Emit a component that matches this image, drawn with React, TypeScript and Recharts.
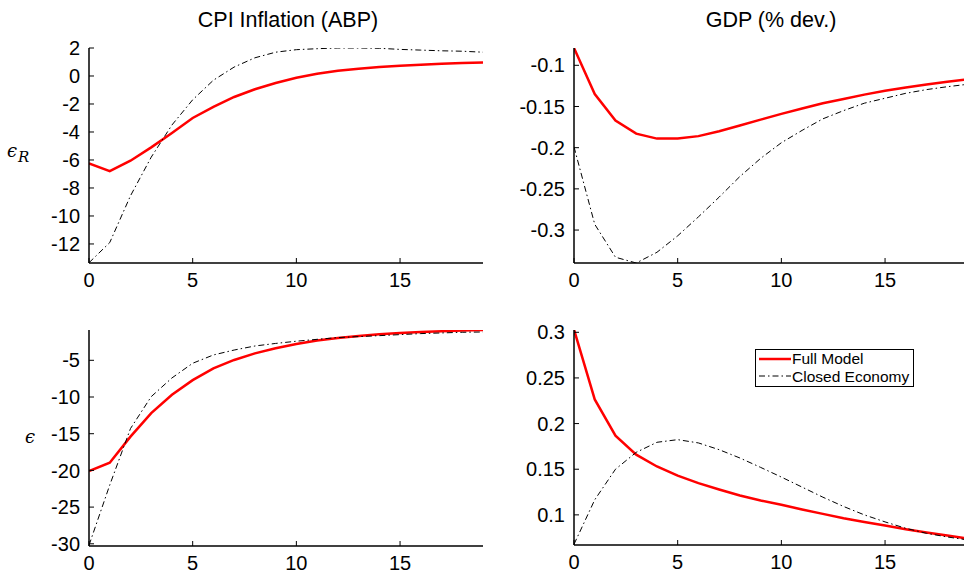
import React from 'react';
import { LineChart, Line, XAxis, YAxis, Legend } from 'recharts';

// ---------- data ----------
const periods = [0, 1, 2, 3, 4, 5, 6, 7, 8, 9, 10, 11, 12, 13, 14, 15, 16, 17, 18, 19];
const xTickValues = [0, 5, 10, 15];

// Row 1: shock epsilon_R
const cpiRFull = [-6.25, -6.8, -6.05, -5.1, -4.07, -3.0, -2.2, -1.5, -0.95, -0.5, -0.13, 0.16, 0.37, 0.52, 0.64, 0.73, 0.8, 0.87, 0.92, 0.97];
const cpiRClosed = [-13.34, -11.9, -8.56, -5.8, -3.5, -1.7, -0.3, 0.64, 1.3, 1.7, 1.88, 1.95, 2.0, 2.0, 1.98, 1.9, 1.85, 1.8, 1.77, 1.7];
const gdpRFull = [-0.079, -0.135, -0.167, -0.183, -0.189, -0.189, -0.186, -0.18, -0.173, -0.166, -0.159, -0.1525, -0.146, -0.141, -0.1356, -0.131, -0.127, -0.1234, -0.12, -0.117];
const gdpRClosed = [-0.199, -0.293, -0.333, -0.34, -0.327, -0.307, -0.284, -0.26, -0.235, -0.213, -0.194, -0.179, -0.165, -0.155, -0.146, -0.14, -0.134, -0.1295, -0.126, -0.123];

// Row 2: shock epsilon
const cpiEFull = [-20.1, -18.95, -15.4, -12.2, -9.7, -7.7, -6.1, -4.95, -4.05, -3.36, -2.77, -2.3, -1.95, -1.68, -1.45, -1.27, -1.14, -1.05, -0.95, -0.86];
const cpiEClosed = [-30.2, -22.0, -14.3, -9.95, -7.4, -5.4, -4.27, -3.6, -3.05, -2.7, -2.4, -2.14, -1.9, -1.77, -1.64, -1.5, -1.36, -1.27, -1.18, -1.14];
const gdpEFull = [0.303, 0.2264, 0.1868, 0.166, 0.153, 0.1429, 0.1348, 0.1278, 0.1212, 0.1158, 0.111, 0.1059, 0.1011, 0.0963, 0.0923, 0.0883, 0.0842, 0.0806, 0.0773, 0.074];
const gdpEClosed = [0.0678, 0.1165, 0.15, 0.1685, 0.1795, 0.1824, 0.1788, 0.1714, 0.1623, 0.152, 0.1414, 0.1304, 0.1194, 0.1092, 0.1, 0.0923, 0.0853, 0.0798, 0.0758, 0.0725];

const cpiRTicks = [2, 0, -2, -4, -6, -8, -10, -12];
const gdpRTicks = [-0.1, -0.15, -0.2, -0.25, -0.3];
const cpiETicks = [-5, -10, -15, -20, -25, -30];
const gdpETicks = [0.1, 0.15, 0.2, 0.25, 0.3];

const colTitles = ['CPI Inflation (ABP)', 'GDP (% dev.)'];
const seriesNames = ['Full Model', 'Closed Economy'];

// ---------- styles ----------
const FONT = '"Liberation Sans", Arial, Helvetica, sans-serif';
const SERIF = '"DejaVu Serif", "Liberation Serif", serif';
const axisLine = { stroke: '#000', strokeWidth: 1.5 };
const tickLine = { stroke: '#000', strokeWidth: 1 };
const tickText = { fill: '#000', fontSize: 20, fontFamily: FONT };
const noTick = () => <g />;

const styleFull = { stroke: '#ff0000', strokeWidth: 2.5, strokeDasharray: undefined as string | undefined };
const styleClosed = { stroke: '#000000', strokeWidth: 1, strokeDasharray: '6 3 1.5 3' };

function LegendBox(props: any) {
  const payload = [...(props.payload || [])].sort(
    (a: any, b: any) => seriesNames.indexOf(a.value) - seriesNames.indexOf(b.value)
  );
  return (
    <div
      style={{
        border: '1.5px solid #000',
        background: '#fff',
        padding: '0px 4px 1px 3px',
        fontFamily: FONT,
        fontSize: 15.5,
        lineHeight: '17.5px',
        color: '#000',
        whiteSpace: 'nowrap',
      }}
    >
      {payload.map((item: any) => {
        const st = item.dataKey === 'full' ? styleFull : styleClosed;
        return (
          <div key={item.value} style={{ display: 'flex', alignItems: 'center' }}>
            <svg width={32} height={10} style={{ marginRight: 1 }}>
              <line x1={0} y1={5} x2={32} y2={5} stroke={st.stroke} strokeWidth={st.strokeWidth} strokeDasharray={st.strokeDasharray} />
            </svg>
            <span>{item.value}</span>
          </div>
        );
      })}
    </div>
  );
}

type PanelProps = {
  left: number;
  top: number;
  width: number;
  height: number;
  margin: { top: number; right: number; bottom: number; left: number };
  yWidth: number;
  xHeight: number;
  full: number[];
  closed: number[];
  yDomain: [number, number];
  yTicks: number[];
  legend?: boolean;
};

function Panel(p: PanelProps) {
  const data = periods.map((t, i) => ({ t, full: p.full[i], closed: p.closed[i] }));
  return (
    <div style={{ position: 'absolute', left: p.left, top: p.top }}>
      <LineChart width={p.width} height={p.height} data={data} margin={p.margin}>
        <XAxis
          xAxisId="b"
          dataKey="t"
          type="number"
          domain={[0, 19]}
          ticks={xTickValues}
          interval={0}
          allowDataOverflow
          orientation="bottom"
          height={p.xHeight}
          tickSize={-5}
          tickMargin={15}
          axisLine={axisLine}
          tickLine={tickLine}
          tick={tickText}
        />
        <XAxis
          xAxisId="t"
          dataKey="t"
          type="number"
          domain={[0, 19]}
          ticks={xTickValues}
          interval={0}
          allowDataOverflow
          orientation="top"
          height={0}
          tickSize={-5}
          axisLine={axisLine}
          tickLine={tickLine}
          tick={noTick}
        />
        <YAxis
          yAxisId="l"
          type="number"
          domain={p.yDomain}
          ticks={p.yTicks}
          interval={0}
          allowDataOverflow
          width={p.yWidth}
          tickSize={-5}
          tickMargin={14}
          axisLine={axisLine}
          tickLine={tickLine}
          tick={tickText}
        />
        <YAxis
          yAxisId="r"
          orientation="right"
          type="number"
          domain={p.yDomain}
          ticks={p.yTicks}
          interval={0}
          allowDataOverflow
          width={0}
          tickSize={-5}
          axisLine={axisLine}
          tickLine={tickLine}
          tick={noTick}
        />
        <Line
          xAxisId="b"
          yAxisId="l"
          type="linear"
          dataKey="full"
          name={seriesNames[0]}
          stroke={styleFull.stroke}
          strokeWidth={styleFull.strokeWidth}
          dot={false}
          activeDot={false}
          isAnimationActive={false}
        />
        <Line
          xAxisId="b"
          yAxisId="l"
          type="linear"
          dataKey="closed"
          name={seriesNames[1]}
          stroke={styleClosed.stroke}
          strokeWidth={styleClosed.strokeWidth}
          strokeDasharray={styleClosed.strokeDasharray}
          dot={false}
          activeDot={false}
          isAnimationActive={false}
        />
        {p.legend && (
          <Legend
            layout="vertical"
            verticalAlign="middle"
            align="center"
            content={LegendBox}
            wrapperStyle={{ position: 'absolute', left: 275, top: 49, width: 'auto', height: 'auto' }}
          />
        )}
      </LineChart>
    </div>
  );
}

export default function App() {
  return (
    <div
      style={{
        position: 'absolute',
        left: 0,
        top: 0,
        width: 964,
        height: 575,
        overflow: 'hidden',
        background: '#fff',
      }}
    >
      <Panel
        left={0}
        top={0}
        width={490}
        height={300}
        margin={{ top: 48, right: 7, bottom: 7, left: 0 }}
        yWidth={89}
        xHeight={30}
        full={cpiRFull}
        closed={cpiRClosed}
        yDomain={[-13.36, 2]}
        yTicks={cpiRTicks}
      />
      <Panel
        left={480}
        top={0}
        width={490}
        height={300}
        margin={{ top: 48, right: 2, bottom: 7, left: 0 }}
        yWidth={94}
        xHeight={30}
        full={gdpRFull}
        closed={gdpRClosed}
        yDomain={[-0.34, -0.079]}
        yTicks={gdpRTicks}
      />
      <Panel
        left={0}
        top={300}
        width={490}
        height={275}
        margin={{ top: 30, right: 7, bottom: 4, left: 0 }}
        yWidth={89}
        xHeight={25}
        full={cpiEFull}
        closed={cpiEClosed}
        yDomain={[-30.3, -0.87]}
        yTicks={cpiETicks}
      />
      <Panel
        left={480}
        top={300}
        width={490}
        height={275}
        margin={{ top: 30, right: 2, bottom: 5, left: 0 }}
        yWidth={94}
        xHeight={25}
        full={gdpEFull}
        closed={gdpEClosed}
        yDomain={[0.067, 0.3025]}
        yTicks={gdpETicks}
        legend
      />
      <svg
        width={964}
        height={575}
        style={{ position: 'absolute', left: 0, top: 0, pointerEvents: 'none' }}
      >
        <text x={288} y={27} textAnchor="middle" fontFamily={FONT} fontSize={21.5} fill="#000">
          {colTitles[0]}
        </text>
        <text x={771} y={27} textAnchor="middle" fontFamily={FONT} fontSize={21.5} fill="#000">
          {colTitles[1]}
        </text>
        <text x={7} y={157} fontFamily={SERIF} fontSize={18} fill="#000">
          <tspan fontStyle="italic">ϵ</tspan>
          <tspan fontStyle="italic" fontSize={15} dy={5} dx={1}>R</tspan>
        </text>
        <text x={25} y={443} fontFamily={SERIF} fontSize={18} fontStyle="italic" fill="#000">
          ϵ
        </text>
      </svg>
    </div>
  );
}
